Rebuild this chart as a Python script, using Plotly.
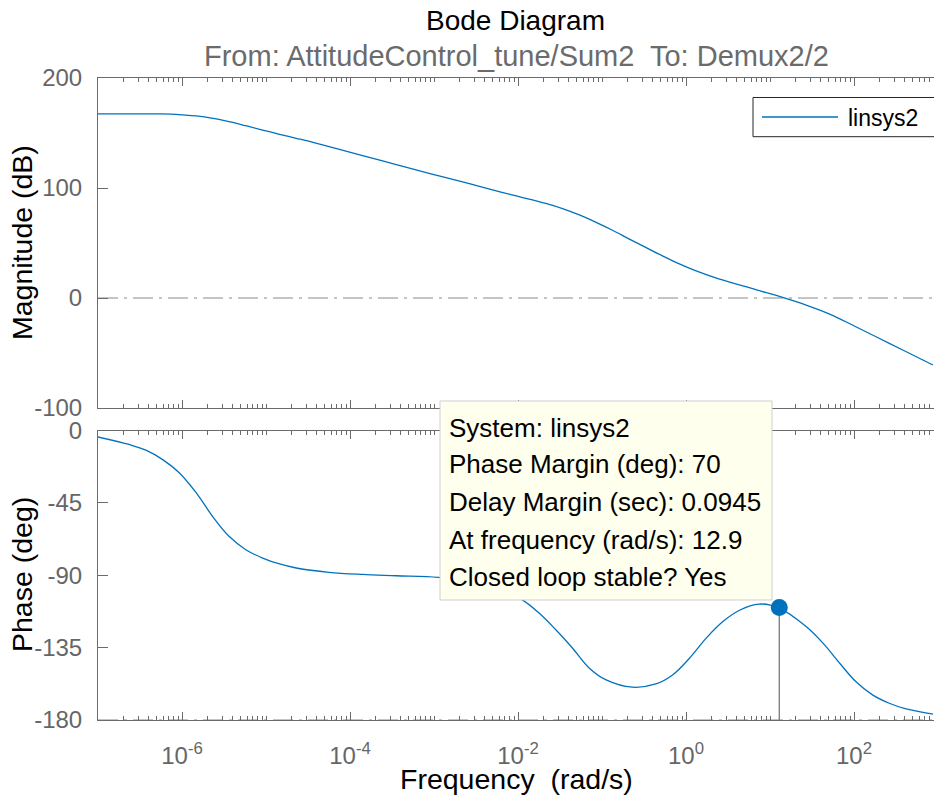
import plotly.graph_objects as go

# ---------------- data ----------------
mag_freq = [9.55e-8, 3.16e-7, 5.89e-7, 1.02e-6, 1.48e-6, 2.34e-6, 3.63e-6, 5.75e-6,
            9.12e-6, 1.45e-5, 2.29e-5, 3.63e-5, 6.76e-5, 1.41e-4, 3.55e-4, 8.71e-4,
            2.19e-3, 3.47e-3, 8.71e-3, 2.14e-2, 3.39e-2, 5.37e-2, 8.51e-2, 0.135,
            0.209, 0.331, 0.525, 0.832, 1.32, 2.40, 6.76, 14.1, 26.9, 51.3, 105,
            263, 661, 871]
mag_db = [167.3, 167.3, 167.3, 166.4, 165.5, 163.3, 160.3, 156.6,
          152.7, 148.8, 145.2, 141.5, 136.1, 129.5, 121.3, 113.4,
          105.6, 101.4, 93.5, 86.0, 81.3, 75.5, 68.8, 61.4,
          53.8, 46.0, 38.3, 31.0, 24.6, 17.6, 7.6, 0.5, -6.4, -14.6, -26.1,
          -41.2, -56.4, -60.9]

phase_freq = [9.77e-8, 2.34e-7, 3.72e-7, 5.89e-7, 9.33e-7, 1.48e-6, 2.34e-6, 3.63e-6,
              5.75e-6, 9.12e-6, 1.45e-5, 2.29e-5, 5.62e-5, 1.41e-4, 3.55e-4, 1.12e-3,
              2.51e-3, 5.01e-3, 1.12e-2, 1.78e-2, 2.82e-2, 4.47e-2, 7.08e-2, 0.112,
              0.229, 0.437, 0.692, 1.10, 1.74, 2.75, 4.27, 7.41, 12.9, 26.9, 42.7,
              67.6, 105, 166, 263, 417, 871]
phase_deg = [-3.9, -8.7, -12.2, -18.1, -26.4, -38.8, -53.8, -65.8,
             -74.1, -79.3, -83.0, -85.5, -88.2, -89.5, -90.3, -91.3,
             -93.5, -97.5, -105.3, -113.5, -123.9, -135.4, -147.8, -155.1,
             -159.6, -157.6, -152.0, -141.6, -129.1, -118.8, -111.9, -107.9, -110.4,
             -121.9, -132.2, -144.7, -156.1, -164.4, -169.6, -173.1, -176.3]

pm_freq = 12.9          # rad/s
phase_margin = 70       # deg
delay_margin = 0.0945   # s
pm_phase = -180 + phase_margin

x_tick_vals = [1e-6, 1e-4, 1e-2, 1e0, 1e2]
x_tick_text = ["10<sup>-6</sup>", "10<sup>-4</sup>", "10<sup>-2</sup>",
               "10<sup>0</sup>", "10<sup>2</sup>"]
mag_ticks = [-100, 0, 100, 200]
mag_tick_text = ["-100", "0", "100", "200"]
phase_ticks = [-180, -135, -90, -45, 0]
phase_tick_text = ["-180", "-135", "-90", "-45", "0"]

tip_lines = ["System: linsys2",
             f"Phase Margin (deg): {phase_margin}",
             f"Delay Margin (sec): {delay_margin}",
             f"At frequency (rad/s): {pm_freq}",
             "Closed loop stable? Yes"]

# ---------------- layout helpers ----------------
W, H = 934, 803
L, R, T, B = 98, 0, 78, 83
PW, PH = W - L - R, H - T - B


def px2x(px):
    return (px - L) / PW


def py2y(py):
    return (H - B - py) / PH


FONT = "Liberation Sans, Arial, Helvetica, sans-serif"
BLUE = "#0072BD"
AX = "#6b6b6b"
TICK = "#666666"
REF = "#8a8a8a"

fig = go.Figure()

fig.add_trace(go.Scatter(x=mag_freq, y=mag_db, mode="lines", name="linsys2",
                         line=dict(color=BLUE, width=1.3, shape="spline", smoothing=1.0),
                         xaxis="x", yaxis="y", hoverinfo="skip"))
fig.add_trace(go.Scatter(x=phase_freq, y=phase_deg, mode="lines", name="linsys2",
                         line=dict(color=BLUE, width=1.3, shape="spline", smoothing=1.0),
                         xaxis="x2", yaxis="y2", hoverinfo="skip"))
fig.add_trace(go.Scatter(x=[pm_freq, pm_freq], y=[-180, pm_phase], mode="lines",
                         line=dict(color="#7a7a7a", width=1.3),
                         xaxis="x2", yaxis="y2", hoverinfo="skip"))
fig.add_trace(go.Scatter(x=[pm_freq], y=[pm_phase], mode="markers",
                         marker=dict(color=BLUE, size=17),
                         xaxis="x2", yaxis="y2", hoverinfo="skip"))

xr = [-7.0, -7.0 + PW / 84.0]

xcommon = dict(type="log", range=xr, showgrid=False, zeroline=False, showline=True,
               linecolor=AX, linewidth=1, mirror="ticks", ticks="inside", ticklen=8,
               tickcolor=AX, tickwidth=1, tickmode="array", tickvals=x_tick_vals,
               ticktext=x_tick_text,
               minor=dict(ticks="inside", ticklen=4, tickcolor=AX, tickwidth=1,
                          dtick="D1", showgrid=False),
               tickfont=dict(family=FONT, size=24, color=TICK))
ycommon = dict(showgrid=False, zeroline=False, showline=True, linecolor=AX, linewidth=1,
               mirror=False, ticks="inside", ticklen=10, tickcolor=AX, tickwidth=1,
               tickmode="array",
               tickfont=dict(family=FONT, size=24, color=TICK), ticklabelstandoff=10)
yright = dict(showgrid=False, zeroline=False, showline=False, ticks="inside", ticklen=10,
              tickcolor=AX, tickwidth=1, showticklabels=False, side="right",
              tickmode="array")

fig.update_layout(
    width=W, height=H, margin=dict(l=L, r=R, t=T, b=B, pad=0),
    paper_bgcolor="white", plot_bgcolor="white", showlegend=False,
    xaxis=dict(**xcommon, anchor="y", showticklabels=False, matches="x2"),
    yaxis=dict(**ycommon, domain=[py2y(408), 1], range=[-100, 200],
               tickvals=mag_ticks, ticktext=mag_tick_text, anchor="x"),
    xaxis2=dict(**xcommon, anchor="y2", ticklabelstandoff=14),
    yaxis2=dict(**ycommon, domain=[0, py2y(430.5)], range=[-180, 0],
                tickvals=phase_ticks, ticktext=phase_tick_text, anchor="x2"),
    yaxis3=dict(**yright, overlaying="y", anchor="x", range=[-100, 200],
                tickvals=mag_ticks),
    yaxis4=dict(**yright, overlaying="y2", anchor="x2", range=[-180, 0],
                tickvals=phase_ticks),
)

shapes = []
dashpat = "20px,6px,3px,6px"
shapes.append(dict(type="line", xref="x domain", yref="y", x0=0, x1=1, y0=0, y1=0,
                   line=dict(color=REF, width=1.2, dash=dashpat), layer="below"))
shapes.append(dict(type="line", xref="x2 domain", yref="y2", x0=0, x1=1, y0=-180, y1=-180,
                   line=dict(color=REF, width=1.2, dash=dashpat), layer="below"))
# data tip box
shapes.append(dict(type="rect", xref="paper", yref="paper",
                   x0=px2x(440), x1=px2x(772), y0=py2y(401), y1=py2y(600),
                   fillcolor="#FFFFEE", line=dict(color="#cfcfcf", width=1), layer="above"))
# legend box
shapes.append(dict(type="rect", xref="paper", yref="paper",
                   x0=px2x(753), x1=px2x(945), y0=py2y(97.5), y1=py2y(136.7),
                   fillcolor="white", line=dict(color="#262626", width=1), layer="above"))
shapes.append(dict(type="line", xref="paper", yref="paper",
                   x0=px2x(762), x1=px2x(838), y0=py2y(117), y1=py2y(117),
                   line=dict(color=BLUE, width=1.3), layer="above"))
fig.update_layout(shapes=shapes)

ann = []
ann.append(dict(text="Bode Diagram", x=px2x(515), y=py2y(20.5), xref="paper", yref="paper",
                showarrow=False, xanchor="center", yanchor="middle",
                font=dict(family=FONT, size=28, color="#000000")))
ann.append(dict(text="From: AttitudeControl_tune/Sum2\u00a0 To: Demux2/2", x=px2x(516),
                y=py2y(56), xref="paper", yref="paper", showarrow=False,
                xanchor="center", yanchor="middle",
                font=dict(family=FONT, size=29, color="#6b6b6b")))
ann.append(dict(text="Magnitude (dB)", x=px2x(22), y=py2y(243), xref="paper", yref="paper",
                showarrow=False, textangle=-90, xanchor="center", yanchor="middle",
                font=dict(family=FONT, size=28.5, color="#000000")))
ann.append(dict(text="Phase (deg)", x=px2x(22), y=py2y(575), xref="paper", yref="paper",
                showarrow=False, textangle=-90, xanchor="center", yanchor="middle",
                font=dict(family=FONT, size=28.5, color="#000000")))
ann.append(dict(text="Frequency\u00a0 (rad/s)", x=px2x(516), y=py2y(779), xref="paper",
                yref="paper", showarrow=False, xanchor="center", yanchor="middle",
                font=dict(family=FONT, size=28.5, color="#000000")))
ann.append(dict(text="linsys2", x=px2x(846), y=py2y(118), xref="paper", yref="paper",
                showarrow=False, xanchor="left", yanchor="middle",
                font=dict(family=FONT, size=23, color="#000000")))
tip_y = [427.5, 464.5, 501.5, 539.5, 576.5]
for line_txt, yy in zip(tip_lines, tip_y):
    ann.append(dict(text=line_txt, x=px2x(447), y=py2y(yy), xref="paper", yref="paper",
                    showarrow=False, xanchor="left", yanchor="middle",
                    font=dict(family=FONT, size=26, color="#000000")))
fig.update_layout(annotations=ann)

fig.write_html("out.html")
